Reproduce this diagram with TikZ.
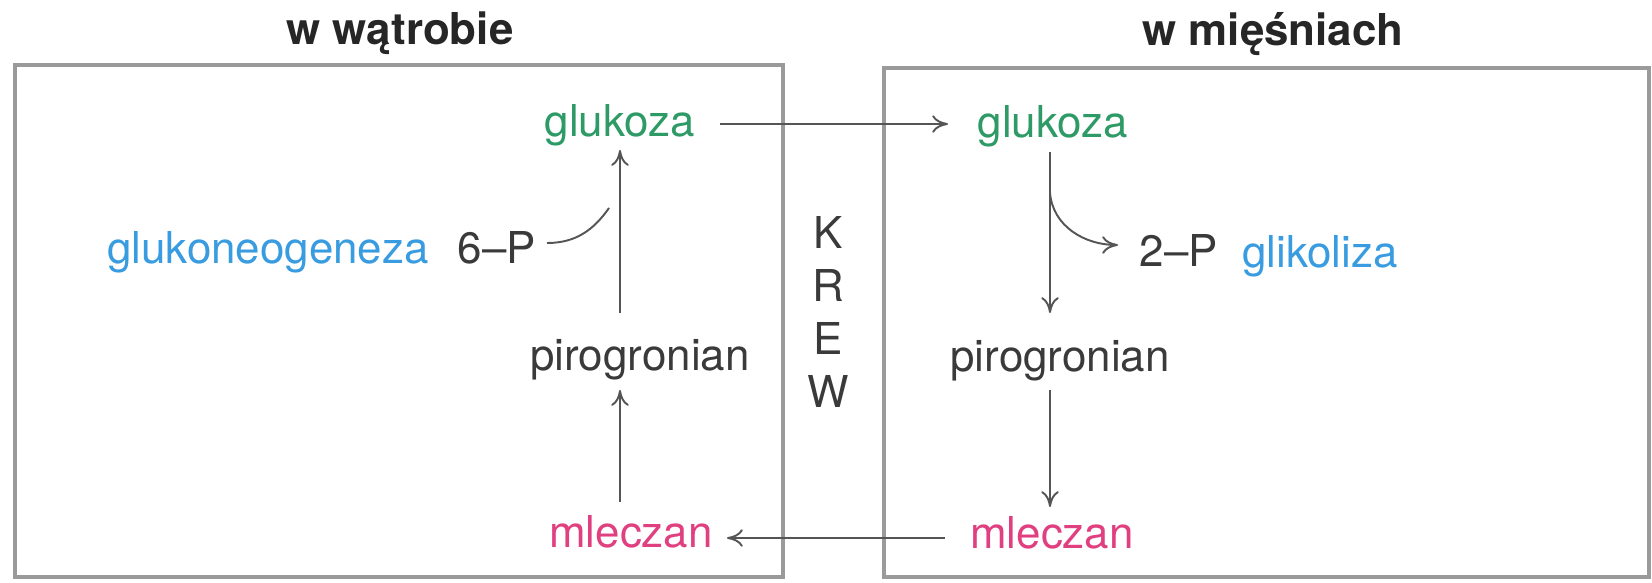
\documentclass[tikz,border=0pt]{standalone}
\usepackage{fontspec}
\setmainfont{TeX Gyre Heros}
\usetikzlibrary{calc,arrows.meta}
\definecolor{txtgray}{HTML}{3A3A3A}
\definecolor{glugreen}{HTML}{2E9A66}
\definecolor{procblue}{HTML}{3A9CE0}
\definecolor{mlpink}{HTML}{E04080}
\definecolor{arrgray}{HTML}{555555}
\definecolor{boxgray}{HTML}{9A9A9A}
\tikzset{
  lbl/.style={anchor=base, inner sep=0pt, font=\fontsize{25}{30}\selectfont, text=txtgray},
  ttl/.style={lbl, font=\fontsize{25}{30}\selectfont\bfseries, text=black!85},
  glu/.style={lbl, text=glugreen},
  proc/.style={lbl, text=procblue},
  mlc/.style={lbl, text=mlpink},
  arr/.style={draw=arrgray, line width=1.1pt, -{To[length=9pt,width=10pt]}},
  plain/.style={draw=arrgray, line width=1.1pt},
  frame/.style={draw=boxgray, line width=1.8pt},
}
\begin{document}
\begin{tikzpicture}[x=0.02cm, y=-0.02cm]
\useasboundingbox (0,0) rectangle (1652,582);
% frames
\draw[frame] (15,65) rectangle (783,577);
\draw[frame] (884,68) rectangle (1649,577);
% titles
\node[ttl] (tL) at (400,44) {w wątrobie};
\node[ttl] (tR) at (1273,45) {w mięśniach};
% left side
\node[glu] (gluL) at (620,136) {glukoza};
\node[proc] (gng) at (268,263) {glukoneogeneza};
\node[lbl] (sixP) at (497,263) {6\textendash P};
\node[lbl] (piroL) at (640,370) {pirogronian};
\node[mlc] (mlL) at (631,547) {mleczan};
% right side
\node[glu] (gluR) at (1053,137) {glukoza};
\node[lbl] (twoP) at (1179,266) {2\textendash P};
\node[proc] (glik) at (1320,267) {glikoliza};
\node[lbl] (piroR) at (1060,371) {pirogronian};
\node[mlc] (mlR) at (1052,548) {mleczan};
% blood
\node[lbl, anchor=center, align=center, font=\fontsize{25}{30}\selectfont] (krew) at (828,312) {K\\R\\E\\W};
% left arrows
\draw[arr] ($(piroL.base)+(-20,-57)$) -- ($(gluL.base)+(0,14)$);
\draw[arr] ($(mlL.base)+(-11,-45)$) -- ($(piroL.base)+(-20,20)$);
\draw[plain] ($(sixP.base)+(50,-20)$) to[out=0,in=235] ($(gluL.base)+(-11,72)$);
% right arrows
\draw[arr] ($(gluR.base)+(-3,15)$) -- ($(piroR.base)+(-10,-58)$);
\draw[arr] ($(piroR.base)+(-10,19)$) -- ($(mlR.base)+(-2,-41)$);
\draw[arr] ($(gluR.base)+(-3,56)$) to[out=-85,in=180] ($(twoP.base)+(-61,-21)$);
% across the blood
\draw[arr] ($(gluL.base)+(100,-12)$) -- ($(gluR.base)+(-105,-13)$);
\draw[arr] ($(mlR.base)+(-107,-10)$) -- ($(mlL.base)+(96,-9)$);
\end{tikzpicture}
\end{document}
